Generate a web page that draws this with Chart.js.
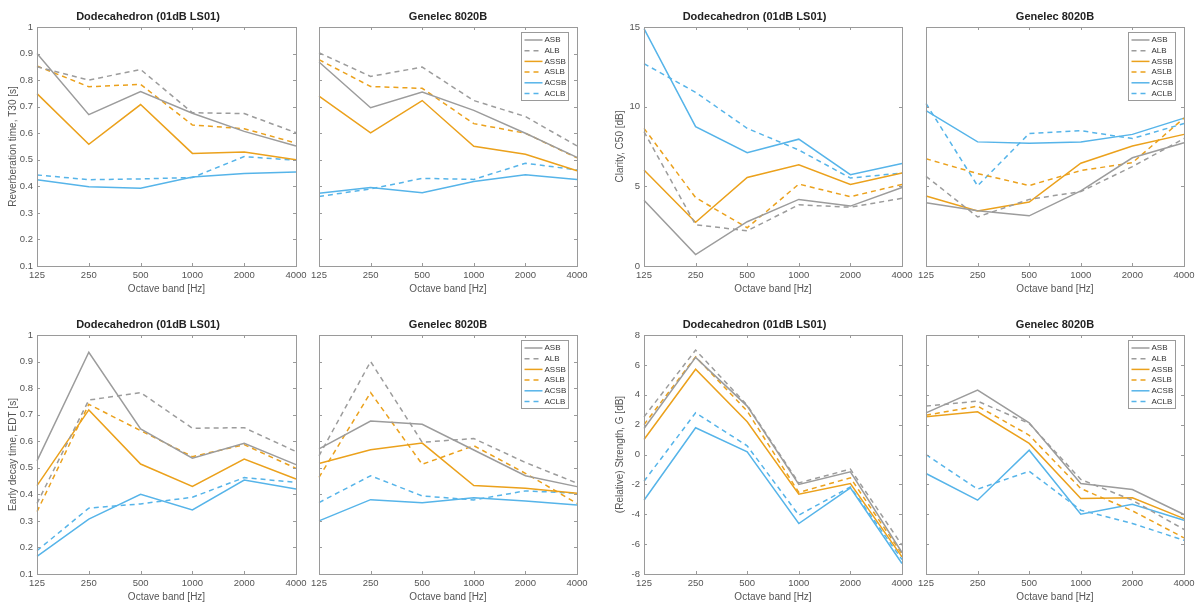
<!DOCTYPE html>
<html>
<head>
<meta charset="utf-8">
<script src="https://cdn.jsdelivr.net/npm/chart.js@4.4.0/dist/chart.umd.min.js"></script>
<style>
    html, body { margin: 0; padding: 0; background: #fff; }
    #wrap { position: relative; width: 1200px; height: 611px; overflow: hidden; }
    #wrap canvas { position: absolute; }
</style>
</head>
<body>
<div id="wrap"></div>
<script>
const bands = ['125', '250', '500', '1000', '2000', '4000'];
const seriesNames = ['ASB', 'ALB', 'ASSB', 'ASLB', 'ACSB', 'ACLB'];

// each row follows seriesNames
const t30Dodec = [
    [0.90, 0.67, 0.757, 0.675, 0.607, 0.552],
    [0.85, 0.80, 0.84, 0.677, 0.674, 0.602],
    [0.749, 0.558, 0.708, 0.524, 0.529, 0.50],
    [0.853, 0.775, 0.784, 0.631, 0.617, 0.563],
    [0.425, 0.398, 0.393, 0.435, 0.448, 0.454],
    [0.443, 0.425, 0.428, 0.433, 0.512, 0.498]
];
const t30Genelec = [
    [0.868, 0.696, 0.755, 0.686, 0.60, 0.509],
    [0.903, 0.814, 0.849, 0.723, 0.663, 0.552],
    [0.74, 0.601, 0.723, 0.551, 0.521, 0.459],
    [0.877, 0.776, 0.769, 0.636, 0.60, 0.507],
    [0.374, 0.396, 0.376, 0.418, 0.444, 0.426],
    [0.362, 0.39, 0.43, 0.426, 0.487, 0.462]
];
const c50Dodec = [
    [4.12, 0.72, 2.78, 4.18, 3.76, 4.93],
    [8.43, 2.59, 2.21, 3.84, 3.69, 4.25],
    [6.03, 2.74, 5.56, 6.35, 5.12, 5.84],
    [8.64, 4.29, 2.40, 5.14, 4.35, 5.12],
    [14.9, 8.75, 7.11, 7.96, 5.73, 6.43],
    [12.7, 10.9, 8.64, 7.28, 5.52, 5.84]
];
const c50Genelec = [
    [3.97, 3.47, 3.15, 4.71, 6.79, 7.73],
    [5.63, 3.08, 4.18, 4.67, 6.24, 8.0],
    [4.39, 3.46, 4.01, 6.45, 7.53, 8.26],
    [6.73, 5.80, 5.05, 5.99, 6.48, 9.28],
    [9.75, 7.79, 7.71, 7.79, 8.26, 9.28],
    [10.2, 5.03, 8.32, 8.49, 8.0, 8.94]
];
const edtDodec = [
    [0.526, 0.935, 0.646, 0.536, 0.592, 0.512],
    [0.366, 0.755, 0.783, 0.649, 0.651, 0.561],
    [0.433, 0.718, 0.514, 0.43, 0.533, 0.458],
    [0.335, 0.739, 0.64, 0.542, 0.587, 0.498],
    [0.166, 0.307, 0.40, 0.341, 0.454, 0.42],
    [0.188, 0.348, 0.364, 0.389, 0.463, 0.445]
];
const edtGenelec = [
    [0.571, 0.676, 0.664, 0.567, 0.47, 0.429],
    [0.545, 0.90, 0.596, 0.61, 0.52, 0.442],
    [0.516, 0.568, 0.593, 0.433, 0.423, 0.404],
    [0.464, 0.783, 0.513, 0.583, 0.479, 0.366],
    [0.30, 0.38, 0.368, 0.387, 0.375, 0.36],
    [0.369, 0.47, 0.394, 0.379, 0.413, 0.404]
];
const gDodec = [
    [1.74, 6.5, 3.24, -2.0, -1.16, -6.56],
    [2.52, 6.99, 3.3, -1.9, -0.98, -6.07],
    [1.0, 5.71, 2.19, -2.66, -1.94, -6.85],
    [2.0, 6.54, 2.9, -2.54, -1.56, -6.67],
    [-3.06, 1.79, 0.18, -4.62, -2.23, -7.3],
    [-1.79, 2.79, 0.58, -4.06, -2.17, -7.03]
];
const gGenelec = [
    [2.79, 4.31, 2.12, -1.94, -2.34, -4.02],
    [3.24, 3.57, 2.08, -1.67, -3.06, -5.02],
    [2.52, 2.86, 0.74, -2.95, -2.9, -4.29],
    [2.63, 3.24, 1.29, -2.28, -3.77, -5.58],
    [-1.27, -3.06, 0.29, -4.0, -3.33, -4.4],
    [0.0, -2.32, -1.12, -3.73, -4.62, -5.74]
];

const lineColors = ['#9c9c9c', '#9c9c9c', '#eba11c', '#eba11c', '#56b4e9', '#56b4e9'];
const lineDashes = [[], [5, 4], [], [5, 4], [], [5, 4]];
const axisColor = '#9a9a9a';
const textColor = '#555';

Chart.defaults.font.family = '"Liberation Sans", Arial, sans-serif';
Chart.defaults.animation = false;

// box round the axes with inward ticks, like matlab
const boxPlugin = {
    id: 'matlabBox',
    afterDatasetsDraw(chart) {
        const { ctx, chartArea: a, scales } = chart;
        const tl = 3;
        ctx.save();
        ctx.strokeStyle = axisColor;
        ctx.lineWidth = 1;
        ctx.setLineDash([]);
        ctx.beginPath();
        scales.x.ticks.forEach((t, i) => {
            const px = Math.round(scales.x.getPixelForTick(i)) + 0.5;
            ctx.moveTo(px, a.bottom); ctx.lineTo(px, a.bottom - tl);
            ctx.moveTo(px, a.top); ctx.lineTo(px, a.top + tl);
        });
        scales.y.ticks.forEach((t, i) => {
            const py = Math.round(scales.y.getPixelForTick(i)) + 0.5;
            ctx.moveTo(a.left, py); ctx.lineTo(a.left + tl, py);
            ctx.moveTo(a.right, py); ctx.lineTo(a.right - tl, py);
        });
        ctx.stroke();
        ctx.strokeRect(Math.round(a.left) + 0.5, Math.round(a.top) + 0.5,
            Math.round(a.right - a.left), Math.round(a.bottom - a.top));
        ctx.restore();
    }
};

// legend inside the axes, top right
const insideLegend = {
    id: 'insideLegend',
    afterDraw(chart, args, opts) {
        if (!opts.show) return;
        const { ctx, chartArea: a } = chart;
        const bw = 47, bh = 68;
        const bx = Math.round(a.right - 9 - bw) + 0.5;
        const by = Math.round(a.top + 5) + 0.5;
        ctx.save();
        ctx.fillStyle = '#fff';
        ctx.fillRect(bx, by, bw, bh);
        ctx.strokeStyle = axisColor;
        ctx.lineWidth = 1;
        ctx.strokeRect(bx, by, bw, bh);
        ctx.font = '8px "Liberation Sans", Arial, sans-serif';
        ctx.textBaseline = 'middle';
        ctx.fillStyle = '#333';
        chart.data.datasets.forEach((ds, i) => {
            const yy = by + 7.5 + i * 10.7;
            ctx.strokeStyle = ds.borderColor;
            ctx.lineWidth = ds.borderWidth;
            ctx.setLineDash(ds.borderDash);
            ctx.beginPath();
            ctx.moveTo(bx + 3, yy);
            ctx.lineTo(bx + 21, yy);
            ctx.stroke();
            ctx.fillText(ds.label, bx + 23, yy);
        });
        ctx.restore();
    }
};

const panels = [
    { rows: t30Dodec, title: 'Dodecahedron (01dB LS01)', x: 37, y: 27, w: 259, h: 239, ymin: 0.1, ymax: 1, step: 0.1, ylabel: 'Reverberation time, T30 [s]' },
    { rows: t30Genelec, title: 'Genelec 8020B', x: 319, y: 27, w: 258, h: 239, ymin: 0.1, ymax: 1, step: 0.1, legend: true },
    { rows: c50Dodec, title: 'Dodecahedron (01dB LS01)', x: 644, y: 27, w: 258, h: 239, ymin: 0, ymax: 15, step: 5, ylabel: 'Clarity, C50 [dB]' },
    { rows: c50Genelec, title: 'Genelec 8020B', x: 926, y: 27, w: 258, h: 239, ymin: 0, ymax: 15, step: 5, legend: true },
    { rows: edtDodec, title: 'Dodecahedron (01dB LS01)', x: 37, y: 335, w: 259, h: 239, ymin: 0.1, ymax: 1, step: 0.1, ylabel: 'Early decay time, EDT [s]' },
    { rows: edtGenelec, title: 'Genelec 8020B', x: 319, y: 335, w: 258, h: 239, ymin: 0.1, ymax: 1, step: 0.1, legend: true },
    { rows: gDodec, title: 'Dodecahedron (01dB LS01)', x: 644, y: 335, w: 258, h: 239, ymin: -8, ymax: 8, step: 2, ylabel: '(Relative) Strength, G [dB]' },
    { rows: gGenelec, title: 'Genelec 8020B', x: 926, y: 335, w: 258, h: 239, ymin: -8, ymax: 8, step: 2, legend: true }
];

const wrap = document.getElementById('wrap');
const topSpace = 27, bottomSpace = 35, rightSpace = 15;

panels.forEach(p => {
    const hasY = !!p.ylabel;
    const leftSpace = hasY ? 37 : 12;
    const canvas = document.createElement('canvas');
    canvas.width = p.w + leftSpace + rightSpace;
    canvas.height = p.h + topSpace + bottomSpace;
    canvas.style.left = (p.x - leftSpace) + 'px';
    canvas.style.top = (p.y - topSpace) + 'px';
    wrap.appendChild(canvas);

    new Chart(canvas, {
        type: 'line',
        data: {
            labels: bands,
            datasets: p.rows.map((vals, i) => ({
                label: seriesNames[i],
                data: vals,
                borderColor: lineColors[i],
                borderDash: lineDashes[i],
                borderWidth: 1.5,
                pointRadius: 0,
                tension: 0,
                fill: false
            }))
        },
        options: {
            responsive: false,
            devicePixelRatio: 1,
            layout: { padding: { left: hasY ? 0 : leftSpace, right: rightSpace, top: 0, bottom: 0 } },
            plugins: {
                legend: { display: false },
                tooltip: { enabled: false },
                title: {
                    display: true,
                    text: p.title,
                    color: '#222',
                    font: { size: 11, weight: 'bold' },
                    padding: { top: 10, bottom: 3.8 }
                },
                insideLegend: { show: !!p.legend }
            },
            scales: {
                x: {
                    offset: false,
                    grid: { display: false, drawTicks: false },
                    border: { display: false },
                    ticks: { color: textColor, font: { size: 9.5 }, padding: 4, maxRotation: 0, autoSkip: false },
                    title: { display: true, text: 'Octave band [Hz]', color: textColor, font: { size: 10 }, padding: { top: 0, bottom: 6 } },
                    afterFit(s) { s.height = bottomSpace; }
                },
                y: {
                    min: p.ymin,
                    max: p.ymax,
                    grid: { display: false, drawTicks: false },
                    border: { display: false },
                    ticks: {
                        display: hasY, stepSize: p.step, color: textColor, font: { size: 9.5 }, padding: 4,
                        callback: v => String(Number(v.toFixed(1)))
                    },
                    title: { display: hasY, text: p.ylabel || '', color: textColor, font: { size: 10 }, padding: { top: 7, bottom: 0 } },
                    afterFit(s) { s.width = hasY ? leftSpace : 0; }
                }
            }
        },
        plugins: [boxPlugin, insideLegend]
    });
});
</script>
</body>
</html>
